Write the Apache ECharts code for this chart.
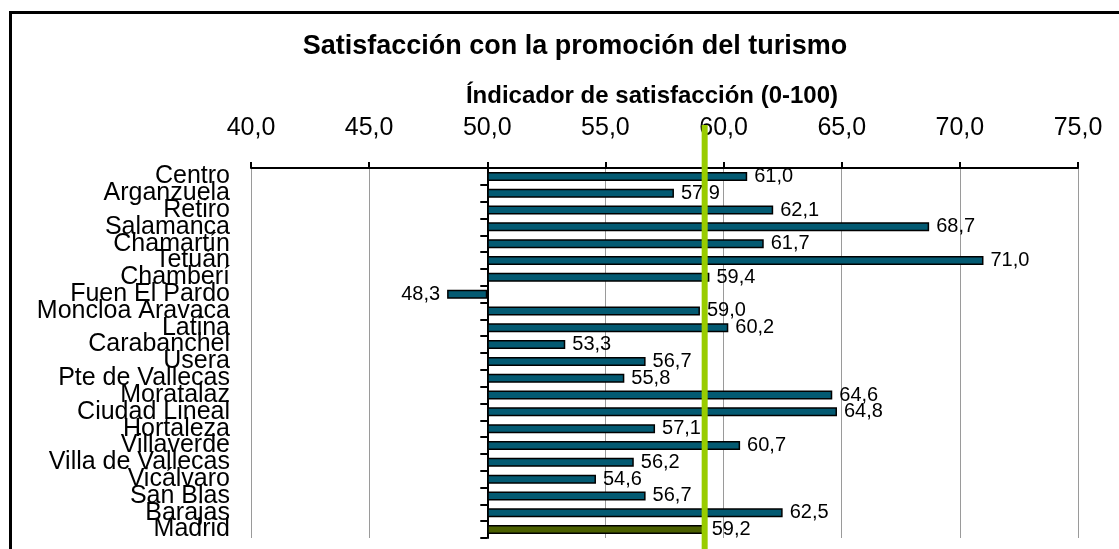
<!DOCTYPE html>
<html>
<head>
<meta charset="utf-8">
<script src="https://cdn.jsdelivr.net/npm/echarts@6/dist/echarts.min.js"></script>
<style>
  html, body { margin: 0; padding: 0; background: #fff; }
  #chart { width: 1119px; height: 549px; }
</style>
</head>
<body>
<div id="chart"></div>
<script>
// distritos, de arriba a abajo
const districts = [
  'Centro', 'Arganzuela', 'Retiro', 'Salamanca', 'Chamartín', 'Tetuán',
  'Chamberí', 'Fuen El Pardo', 'Moncloa Aravaca', 'Latina', 'Carabanchel',
  'Usera', 'Pte de Vallecas', 'Moratalaz', 'Ciudad Lineal', 'Hortaleza',
  'Villaverde', 'Villa de Vallecas', 'Vicálvaro', 'San Blas', 'Barajas', 'Madrid'
];
const satisfaction = [
  61.0, 57.9, 62.1, 68.7, 61.7, 71.0,
  59.4, 48.3, 59.0, 60.2, 53.3,
  56.7, 55.8, 64.6, 64.8, 57.1,
  60.7, 56.2, 54.6, 56.7, 62.5, 59.2
];
const axisTicks = [40, 45, 50, 55, 60, 65, 70, 75];
const baseValue = 50;      // las barras salen de 50
const madridValue = 59.2;  // línea de referencia

const fmt = v => v.toFixed(1).replace('.', ',');
const FONT = 'Liberation Sans';

let chartDom = document.getElementById('chart');
let myChart = echarts.init(chartDom);

// valores relativos a 50 para que la barra arranque en el eje
let barData = satisfaction.map((v, i) => ({
  value: v - baseValue,
  raw: v,
  itemStyle: districts[i] === 'Madrid' ? { color: '#4b6000' } : undefined,
  label: v < baseValue ? { position: 'left' } : undefined
}));

let option = {
  animation: false,
  backgroundColor: '#fff',
  title: [
    {
      text: 'Satisfacción con la promoción del turismo',
      left: 575, top: 33, padding: 0, textAlign: 'center',
      textStyle: { fontFamily: FONT, fontSize: 27, fontWeight: 'bold', color: '#000' }
    },
    {
      text: 'Índicador de satisfacción (0-100)',
      left: 652, top: 84, padding: 0, textAlign: 'center',
      textStyle: { fontFamily: FONT, fontSize: 24, fontWeight: 'bold', color: '#000' }
    }
  ],
  grid: { left: 251, right: 41, top: 168, bottom: 11, outerBoundsMode: 'none' },
  xAxis: {
    type: 'value',
    position: 'top',
    min: axisTicks[0] - baseValue,
    max: axisTicks[axisTicks.length - 1] - baseValue,
    interval: axisTicks[1] - axisTicks[0],
    axisLine: { show: true, onZero: false, lineStyle: { color: '#000', width: 2 } },
    axisTick: { show: true, length: 6, lineStyle: { color: '#000', width: 2 } },
    axisLabel: {
      margin: 27, color: '#000', fontFamily: FONT, fontSize: 25,
      formatter: v => fmt(v + baseValue)
    },
    splitLine: { show: true, lineStyle: { color: '#9a9a9a', width: 1 } }
  },
  yAxis: [
    {
      type: 'category',
      data: districts,
      inverse: true,
      position: 'left',
      axisLine: { show: false, onZero: false },
      axisTick: { show: false },
      axisLabel: {
        interval: 0, margin: 21, color: '#000', fontFamily: FONT, fontSize: 25
      }
    },
    {
      type: 'category',
      data: districts,
      inverse: true,
      position: 'left',
      axisLine: { show: true, onZero: true, lineStyle: { color: '#000', width: 2 } },
      axisTick: { show: true, length: 7, lineStyle: { color: '#000', width: 2 } },
      axisLabel: { show: false }
    }
  ],
  series: [
    {
      type: 'bar',
      yAxisIndex: 0,
      barWidth: 9,
      data: barData,
      itemStyle: { color: '#035a72', borderColor: '#000', borderWidth: 1.5 },
      label: {
        show: true,
        position: 'right',
        distance: 7,
        color: '#000',
        fontFamily: FONT,
        fontSize: 20,
        formatter: p => fmt(p.data.raw)
      },
      z: 2
    }
  ]
};

option && myChart.setOption(option);

// línea verde de Madrid y marco exterior
let lineX = myChart.convertToPixel({ xAxisIndex: 0 }, madridValue - baseValue);
myChart.setOption({
  graphic: [
    {
      type: 'rect',
      shape: { x: 10.5, y: 12.5, width: 1130, height: 560 },
      style: { fill: null, stroke: '#000', lineWidth: 3 },
      silent: true,
      z: 1
    },
    {
      type: 'line',
      shape: { x1: lineX, y1: 125, x2: lineX, y2: 560 },
      style: { stroke: '#99cc00', lineWidth: 6 },
      silent: true,
      z: 100
    }
  ]
});
</script>
</body>
</html>
